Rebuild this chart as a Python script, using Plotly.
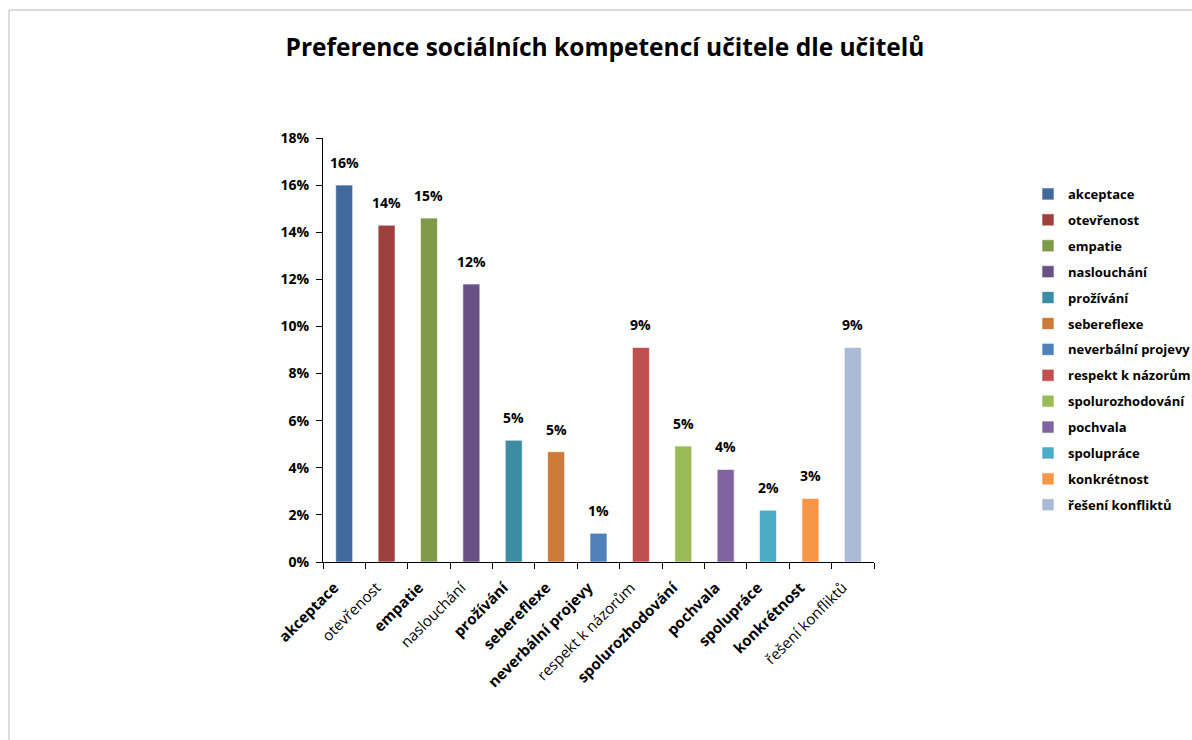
import plotly.graph_objects as go

# Competences and their share of teacher preferences
competences = [
    "akceptace", "otevřenost", "empatie", "naslouchání", "prožívání",
    "sebereflexe", "neverbální projevy", "respekt k názorům",
    "spolurozhodování", "pochvala", "spolupráce", "konkrétnost",
    "řešení konfliktů",
]
shares = [0.160, 0.143, 0.146, 0.118, 0.0517, 0.0468, 0.0122, 0.0911,
          0.0492, 0.0393, 0.022, 0.027, 0.0911]

colors = ["#41699C", "#9E413E", "#7F9A48", "#695185", "#3C8DA3", "#CC7B38",
          "#4F81BD", "#C0504D", "#9BBB59", "#8064A2", "#4BACC6", "#F79646",
          "#AABAD7"]
bold_ticks = [True, False, True, False, True, True, True, False, True, True,
              True, True, False]

FONT = "Open Sans"

fig = go.Figure()
for i, (name, val) in enumerate(zip(competences, shares)):
    fig.add_trace(go.Bar(
        x=[name], y=[val], name=name, legendgroup=name,
        width=0.4,
        marker=dict(color=colors[i], line=dict(color="rgba(255,255,255,0.6)", width=1)),
        hoverinfo="x+y",
    ))
    fig.add_annotation(
        x=name, y=val, text=f"{val:.0%}", showarrow=False,
        yanchor="bottom", yshift=11,
        font=dict(family=FONT, size=14, color="#000000", weight="bold"),
    )

ticktext = [f"<b>{c}</b>" if b else c for c, b in zip(competences, bold_ticks)]

fig.update_layout(
    width=1192, height=740,
    margin=dict(l=323, r=318, t=138, b=178),
    paper_bgcolor="white", plot_bgcolor="white",
    barmode="overlay",
    font=dict(family=FONT, size=13, color="#000000"),
    title=dict(
        text="<b>Preference sociálních kompetencí učitele dle učitelů</b>",
        x=605 / 1192, xanchor="center", xref="container",
        y=1 - 47 / 740, yanchor="middle", yref="container",
        font=dict(family=FONT, size=24.5, color="#000000"),
    ),
    showlegend=True,
    legend=dict(
        xref="container", yref="container",
        x=1028 / 1192, xanchor="left",
        y=1 - 179 / 740, yanchor="top",
        traceorder="grouped", tracegroupgap=6,
        font=dict(family=FONT, size=13, color="#000000", weight="bold"),
        bgcolor="rgba(0,0,0,0)",
    ),
    xaxis=dict(
        type="category",
        tickmode="array", tickvals=competences, ticktext=ticktext,
        tickangle=-45,
        ticks="outside", tickson="boundaries", ticklen=6,
        tickcolor="#000000",
        ticklabelshift=-10, ticklabelstandoff=10,
        showline=True, linecolor="#000000", linewidth=1,
        showgrid=False,
        tickfont=dict(family=FONT, size=15, color="#000000"),
    ),
    yaxis=dict(
        range=[0, 0.18], dtick=0.02, tickformat=".0%",
        ticks="outside", ticklen=6, tickcolor="#000000",
        ticklabelstandoff=4,
        showline=True, linecolor="#000000", linewidth=1,
        showgrid=False, zeroline=False,
        tickfont=dict(family=FONT, size=14, color="#000000", weight="bold"),
    ),
)

# Chart frame
fig.add_shape(
    type="rect", xref="paper", yref="paper",
    x0=(9 - 323) / 551, x1=2.0, y0=-1.0, y1=(562 - 10) / 424,
    line=dict(color="#B8B8B8", width=1), fillcolor="rgba(0,0,0,0)",
    layer="below",
)

fig.write_html("out.html")
